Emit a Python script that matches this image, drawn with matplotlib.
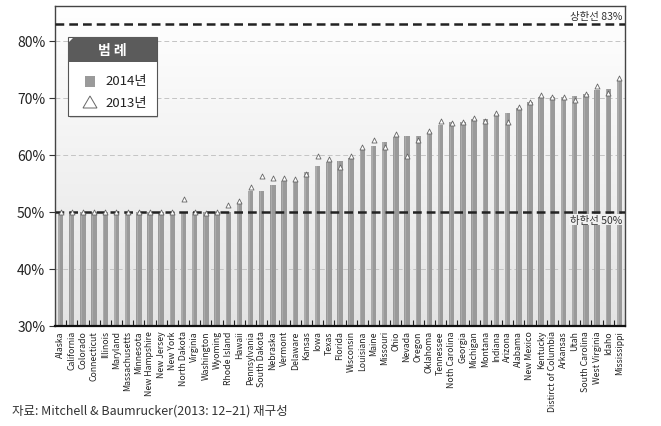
import matplotlib
matplotlib.use("Agg")
import matplotlib.pyplot as plt
import numpy as np
from matplotlib.patches import Polygon, Rectangle

plt.rcParams['font.family'] = ['Noto Sans CJK KR', 'DejaVu Sans']

states = ["Alaska", "California", "Colorado", "Connecticut", "Illinois", "Maryland",
          "Massachusetts", "Minnesota", "New Hampshire", "New Jersey", "New York",
          "North Dakota", "Virginia", "Washington", "Wyoming", "Rhode Island", "Hawaii",
          "Pennsylvania", "South Dakota", "Nebraska", "Vermont", "Delaware", "Kansas",
          "Iowa", "Texas", "Florida", "Wisconsin", "Louisiana", "Maine", "Missouri",
          "Ohio", "Nevada", "Oregon", "Oklahoma", "Tennessee", "Noth Carolina",
          "Georgia", "Michigan", "Montana", "Indiana", "Arizona", "Alabama",
          "New Mexico", "Kentucky", "Distirct of Columbia", "Arkansas", "Utah",
          "South Carolina", "West Virginia", "Idaho", "Mississippi"]

fmap_2014 = [50, 50, 50, 50, 50, 50, 50, 50, 50, 50, 50, 50, 50, 50, 50, 50, 51.8,
             53.6, 53.6, 54.8, 55.4, 55.5, 57.0, 58.0, 58.8, 59.0, 59.5, 61.1, 61.6,
             62.3, 63.1, 63.3, 63.3, 64.0, 65.3, 65.7, 65.8, 66.3, 66.3, 67.1, 67.3,
             68.2, 69.2, 70.2, 70.1, 70.1, 70.4, 70.6, 71.3, 71.6, 73.1]

fmap_2013 = [50, 50, 50, 50, 50, 50, 50, 50, 50, 50, 50, 52.2, 50, 49.8, 50, 51.2, 52.0,
             54.4, 56.3, 56.0, 56.0, 55.8, 56.6, 59.8, 59.3, 57.9, 59.8, 61.3, 62.6,
             61.3, 63.7, 59.8, 62.6, 64.2, 66.0, 65.6, 65.7, 66.4, 66.0, 67.3, 65.8,
             68.4, 69.3, 70.5, 70.1, 70.1, 69.6, 70.6, 72.0, 70.9, 73.4]

y_ticks = [30, 40, 50, 60, 70, 80]
upper_limit = 83
lower_limit = 50

W, H = 661, 427
fig = plt.figure(figsize=(W / 100, H / 100), dpi=100)
ax = fig.add_axes([55 / W, 1 - 327 / H, 570 / W, 320 / H])

x = np.arange(len(states))
ax.set_xlim(-0.5, len(states) - 0.5)
ax.set_ylim(30, 86.1)

# background gradient
grad = np.linspace(0, 1, 256).reshape(-1, 1)
ax.imshow(grad, extent=[0, 1, 0, 1], transform=ax.transAxes, aspect='auto',
          cmap=matplotlib.colors.LinearSegmentedColormap.from_list('bg', ['#e4e4e4', '#ffffff']),
          origin='lower', zorder=0)

# grid lines
for yv in [40, 60, 70, 80]:
    ax.axhline(yv, color='#c4c4c4', lw=0.7, ls=(0, (5, 3)), zorder=1)

ax.bar(x, np.array(fmap_2014) - 30, bottom=30, width=0.48,
       color='#9a9a9a', edgecolor='none', zorder=2)
ax.bar(x - 0.14, np.array(fmap_2014) - 30, bottom=30, width=0.12,
       color='#ababab', edgecolor='none', zorder=2)

ax.scatter(x, fmap_2013, marker='^', s=13, facecolor='white', edgecolor='#666666',
           linewidths=0.6, zorder=4)

ax.axhline(upper_limit, color='#222222', lw=1.8, ls=(0, (3.5, 2)), zorder=3)
ax.axhline(lower_limit, color='#222222', lw=1.8, ls=(0, (3.5, 2)), zorder=3)
ax.text(0.995, upper_limit + 0.5, '상한선 83%', transform=ax.get_yaxis_transform(),
        ha='right', va='bottom', fontsize=7.5, color='#333333', zorder=5)
ax.text(0.995, lower_limit - 0.5, '하한선 50%', transform=ax.get_yaxis_transform(),
        ha='right', va='top', fontsize=7.5, color='#333333', zorder=5,
        bbox=dict(facecolor='#f0f0f0', edgecolor='none', pad=0.5))

ax.set_yticks(y_ticks)
ax.set_yticklabels([f'{v}%' for v in y_ticks], fontsize=10, color='#222222')
ax.tick_params(axis='y', length=4, width=0.8, color='#333333', pad=3)

ax.set_xticks(x)
ax.set_xticklabels(states, rotation=90, fontsize=6.3, color='#222222')
ax.tick_params(axis='x', length=0, pad=3)
ax.set_xticks(np.arange(len(states) + 1) - 0.5, minor=True)
ax.tick_params(axis='x', which='minor', direction='in', length=4, width=0.8, color='#222222')

for s in ['top', 'right', 'left']:
    ax.spines[s].set_color('#444444')
    ax.spines[s].set_linewidth(1.0)
ax.spines['bottom'].set_color('#111111')
ax.spines['bottom'].set_linewidth(1.6)

# custom legend
def fx(px):
    return px / W

def fy(py):
    return 1 - py / H

shadow = Rectangle((fx(70), fy(119)), fx(158) - fx(70), fy(40) - fy(119),
                   transform=fig.transFigure, facecolor='#d2d2d2', edgecolor='none', zorder=9)
fig.patches.append(shadow)
box = Rectangle((fx(68), fy(117)), fx(157) - fx(68), fy(38) - fy(117),
                transform=fig.transFigure, facecolor='white', edgecolor='#555555', lw=0.8, zorder=10)
fig.patches.append(box)
header = Polygon([(fx(68), fy(44)), (fx(74), fy(38)), (fx(157), fy(38)),
                  (fx(157), fy(63)), (fx(68), fy(63))],
                 closed=True, transform=fig.transFigure, facecolor='#5b5b5b',
                 edgecolor='none', zorder=11)
fig.patches.append(header)
fig.text(fx(112), fy(51), '범 례', ha='center', va='center', color='white',
         fontsize=10, fontweight='bold', zorder=12)
sq = Rectangle((fx(85), fy(88)), fx(95) - fx(85), fy(77) - fy(88),
               transform=fig.transFigure, facecolor='#9a9a9a', edgecolor='none', zorder=12)
fig.patches.append(sq)
fig.text(fx(105), fy(82), '2014년', ha='left', va='center', fontsize=9.5,
         color='#222222', zorder=12)
tri = Polygon([(fx(83), fy(109)), (fx(97), fy(109)), (fx(90), fy(97))], closed=True,
              transform=fig.transFigure, facecolor='white', edgecolor='#666666',
              lw=0.7, zorder=12)
fig.patches.append(tri)
fig.text(fx(105), fy(103), '2013년', ha='left', va='center', fontsize=9.5,
         color='#222222', zorder=12)

fig.text(fx(12), fy(411), '자료: Mitchell & Baumrucker(2013: 12–21) 재구성',
         ha='left', va='center', fontsize=9, color='#333333')

fig.savefig('out.png', dpi=100)
